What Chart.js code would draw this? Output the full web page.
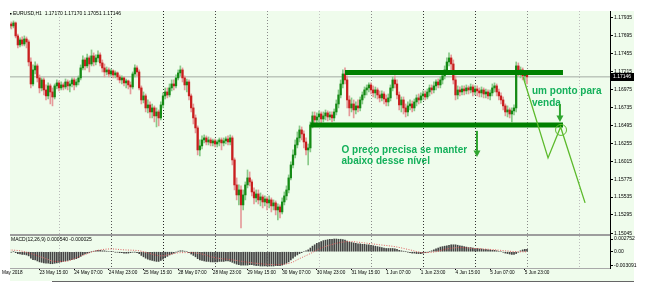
<!DOCTYPE html>
<html><head><meta charset="utf-8">
<script src="https://cdn.jsdelivr.net/npm/chart.js@4.4.1/dist/chart.umd.min.js"></script>
<style>html,body{margin:0;padding:0;background:#fff;overflow:hidden}canvas{display:block}</style>
</head><body>
<canvas id="c" width="656" height="305"></canvas>
<script>
// ---- EURUSD H1, bars 1..240 = 23 May 01:00 .. 6 Jun 00:00 ----
const OPEN = [
1.17802,1.17855,1.17829,1.17869,1.17695,1.17574,1.17641,1.17587,1.17654,1.17614,
1.17346,1.17051,1.17239,1.17293,1.17132,1.16998,1.17105,1.16971,1.16891,1.17025,
1.16944,1.16877,1.17025,1.17065,1.16998,1.17038,1.17011,1.17078,1.17025,1.17051,
1.17105,1.17038,1.17078,1.17132,1.17266,1.17373,1.17293,1.17400,1.17319,1.17427,
1.17346,1.17400,1.17440,1.17333,1.17266,1.17212,1.17239,1.17185,1.17226,1.17172,
1.17199,1.17145,1.17105,1.17132,1.17065,1.17092,1.17038,1.17011,1.17185,1.17266,
1.17212,1.16998,1.16837,1.16891,1.16730,1.16770,1.16676,1.16730,1.16623,1.16676,
1.16596,1.16770,1.16891,1.16944,1.16904,1.16998,1.17051,1.17025,1.17132,1.17199,
1.17239,1.17132,1.17038,1.17078,1.16891,1.16730,1.16596,1.16462,1.16167,1.16221,
1.16301,1.16328,1.16274,1.16301,1.16261,1.16288,1.16247,1.16274,1.16301,1.16261,
1.16288,1.16314,1.16274,1.16328,1.16033,1.15698,1.15564,1.15631,1.15430,1.15564,
1.15698,1.15792,1.15738,1.15604,1.15524,1.15577,1.15497,1.15537,1.15470,1.15510,
1.15457,1.15497,1.15417,1.15457,1.15363,1.15403,1.15336,1.15470,1.15551,1.15631,
1.15792,1.15966,1.16100,1.16234,1.16328,1.16435,1.16381,1.16274,1.16167,1.16194,
1.16502,1.16623,1.16569,1.16609,1.16649,1.16582,1.16623,1.16663,1.16609,1.16636,
1.16596,1.16676,1.16783,1.16904,1.17051,1.17185,1.17105,1.16837,1.16730,1.16783,
1.16703,1.16757,1.16730,1.16837,1.16904,1.16971,1.16998,1.17038,1.16971,1.16931,
1.16971,1.16904,1.16864,1.16917,1.16850,1.16810,1.16864,1.16998,1.17105,1.17051,
1.16904,1.16770,1.16837,1.16730,1.16676,1.16757,1.16783,1.16730,1.16810,1.16864,
1.16837,1.16891,1.16917,1.16877,1.16944,1.16998,1.16971,1.17025,1.17078,1.17038,
1.17105,1.17159,1.17239,1.17346,1.17400,1.17319,1.17105,1.16904,1.16971,1.16944,
1.16984,1.16958,1.16998,1.16971,1.17011,1.16944,1.16984,1.16958,1.16931,1.16971,
1.16917,1.16944,1.16891,1.16931,1.16998,1.17025,1.16944,1.16891,1.16837,1.16757,
1.16676,1.16703,1.16649,1.16690,1.16730,1.17293,1.17212,1.17239,1.17159,1.17170];
const HIGH = [
1.17896,1.17882,1.17896,1.17882,1.17721,1.17668,1.17681,1.17695,1.17681,1.17641,
1.17400,1.17306,1.17346,1.17319,1.17172,1.17132,1.17132,1.17038,1.17065,1.17051,
1.16998,1.17051,1.17105,1.17092,1.17078,1.17065,1.17118,1.17105,1.17092,1.17132,
1.17132,1.17118,1.17159,1.17306,1.17427,1.17400,1.17453,1.17427,1.17507,1.17467,
1.17440,1.17494,1.17467,1.17373,1.17319,1.17279,1.17266,1.17252,1.17239,1.17226,
1.17212,1.17172,1.17159,1.17145,1.17118,1.17105,1.17078,1.17212,1.17306,1.17293,
1.17239,1.17025,1.16944,1.16917,1.16837,1.16810,1.16783,1.16757,1.16730,1.16703,
1.16810,1.16931,1.16998,1.16998,1.17051,1.17105,1.17105,1.17172,1.17239,1.17293,
1.17266,1.17159,1.17118,1.17105,1.16917,1.16783,1.16636,1.16489,1.16301,1.16355,
1.16368,1.16355,1.16341,1.16328,1.16314,1.16314,1.16301,1.16328,1.16328,1.16328,
1.16341,1.16355,1.16368,1.16355,1.16060,1.15792,1.15698,1.15685,1.15631,1.15738,
1.15899,1.15872,1.15765,1.15658,1.15631,1.15631,1.15591,1.15564,1.15551,1.15537,
1.15551,1.15524,1.15497,1.15484,1.15443,1.15430,1.15524,1.15604,1.15685,1.15832,
1.16006,1.16167,1.16301,1.16408,1.16489,1.16475,1.16422,1.16328,1.16247,1.16542,
1.16676,1.16676,1.16663,1.16690,1.16676,1.16676,1.16703,1.16690,1.16676,1.16676,
1.16716,1.16837,1.16971,1.17105,1.17239,1.17266,1.17159,1.16891,1.16864,1.16837,
1.16810,1.16837,1.16877,1.16944,1.17011,1.17038,1.17065,1.17065,1.17025,1.17011,
1.16998,1.16958,1.16958,1.16944,1.16904,1.16917,1.17038,1.17145,1.17159,1.17105,
1.16944,1.16877,1.16877,1.16783,1.16810,1.16837,1.16824,1.16850,1.16904,1.16917,
1.16931,1.16958,1.16958,1.16984,1.17038,1.17038,1.17078,1.17105,1.17118,1.17145,
1.17199,1.17293,1.17400,1.17467,1.17440,1.17373,1.17159,1.17025,1.17011,1.17025,
1.17025,1.17038,1.17025,1.17051,1.17038,1.17025,1.17025,1.16998,1.17011,1.16998,
1.16984,1.16971,1.16971,1.17051,1.17065,1.17051,1.16984,1.16931,1.16877,1.16783,
1.16757,1.16730,1.16730,1.16770,1.17346,1.17333,1.17279,1.17266,1.17226,1.17170];
const LOW = [
1.17775,1.17788,1.17802,1.17668,1.17534,1.17547,1.17561,1.17561,1.17534,1.17293,
1.16998,1.17025,1.17185,1.17078,1.16931,1.16958,1.16904,1.16837,1.16850,1.16783,
1.16757,1.16850,1.16984,1.16958,1.16971,1.16971,1.16984,1.16971,1.16944,1.17011,
1.16971,1.17011,1.17038,1.17105,1.17239,1.17239,1.17266,1.17212,1.17293,1.17293,
1.17306,1.17346,1.17293,1.17212,1.17145,1.17172,1.17145,1.17159,1.17132,1.17132,
1.17105,1.17065,1.17051,1.17025,1.16998,1.16984,1.16917,1.16984,1.17145,1.17159,
1.16971,1.16783,1.16797,1.16676,1.16663,1.16596,1.16596,1.16542,1.16475,1.16489,
1.16569,1.16730,1.16850,1.16864,1.16877,1.16958,1.16971,1.16998,1.17105,1.17159,
1.17078,1.16971,1.16944,1.16837,1.16676,1.16515,1.16395,1.16100,1.16087,1.16180,
1.16261,1.16234,1.16234,1.16221,1.16221,1.16207,1.16207,1.16221,1.16167,1.16221,
1.16247,1.16234,1.16234,1.15966,1.15631,1.15497,1.15430,1.15122,1.15363,1.15497,
1.15658,1.15685,1.15551,1.15443,1.15470,1.15443,1.15417,1.15390,1.15417,1.15363,
1.15390,1.15336,1.15363,1.15296,1.15229,1.15256,1.15309,1.15430,1.15497,1.15591,
1.15765,1.15926,1.16060,1.16194,1.16274,1.16301,1.16194,1.16100,1.15966,1.16140,
1.16462,1.16515,1.16529,1.16542,1.16529,1.16542,1.16569,1.16556,1.16569,1.16542,
1.16556,1.16636,1.16730,1.16864,1.16998,1.17051,1.16730,1.16623,1.16676,1.16596,
1.16649,1.16676,1.16690,1.16783,1.16864,1.16904,1.16944,1.16917,1.16877,1.16864,
1.16850,1.16810,1.16824,1.16783,1.16757,1.16757,1.16824,1.16958,1.16998,1.16850,
1.16703,1.16676,1.16649,1.16609,1.16623,1.16703,1.16676,1.16690,1.16757,1.16783,
1.16797,1.16837,1.16837,1.16850,1.16891,1.16917,1.16931,1.16971,1.16998,1.16998,
1.17051,1.17118,1.17199,1.17293,1.17239,1.17051,1.16837,1.16850,1.16891,1.16904,
1.16904,1.16917,1.16917,1.16931,1.16891,1.16904,1.16891,1.16877,1.16877,1.16864,
1.16864,1.16850,1.16837,1.16891,1.16944,1.16891,1.16837,1.16783,1.16703,1.16623,
1.16609,1.16596,1.16542,1.16636,1.16676,1.17159,1.17132,1.17105,1.17078,1.17051];
const CLOSE = [
1.17855,1.17829,1.17869,1.17695,1.17574,1.17641,1.17587,1.17654,1.17614,1.17346,
1.17051,1.17239,1.17293,1.17132,1.16998,1.17105,1.16971,1.16891,1.17025,1.16944,
1.16877,1.17025,1.17065,1.16998,1.17038,1.17011,1.17078,1.17025,1.17051,1.17105,
1.17038,1.17078,1.17132,1.17266,1.17373,1.17293,1.17400,1.17319,1.17427,1.17346,
1.17400,1.17440,1.17333,1.17266,1.17212,1.17239,1.17185,1.17226,1.17172,1.17199,
1.17145,1.17105,1.17132,1.17065,1.17092,1.17038,1.17011,1.17185,1.17266,1.17212,
1.16998,1.16837,1.16891,1.16730,1.16770,1.16676,1.16730,1.16623,1.16676,1.16596,
1.16770,1.16891,1.16944,1.16904,1.16998,1.17051,1.17025,1.17132,1.17199,1.17239,
1.17132,1.17038,1.17078,1.16891,1.16730,1.16596,1.16462,1.16167,1.16221,1.16301,
1.16328,1.16274,1.16301,1.16261,1.16288,1.16247,1.16274,1.16301,1.16261,1.16288,
1.16314,1.16274,1.16328,1.16033,1.15698,1.15564,1.15631,1.15430,1.15564,1.15698,
1.15792,1.15738,1.15604,1.15524,1.15577,1.15497,1.15537,1.15470,1.15510,1.15457,
1.15497,1.15417,1.15457,1.15363,1.15403,1.15336,1.15470,1.15551,1.15631,1.15792,
1.15966,1.16100,1.16234,1.16328,1.16435,1.16381,1.16274,1.16167,1.16194,1.16502,
1.16623,1.16569,1.16609,1.16649,1.16582,1.16623,1.16663,1.16609,1.16636,1.16596,
1.16676,1.16783,1.16904,1.17051,1.17185,1.17105,1.16837,1.16730,1.16783,1.16703,
1.16757,1.16730,1.16837,1.16904,1.16971,1.16998,1.17038,1.16971,1.16931,1.16971,
1.16904,1.16864,1.16917,1.16850,1.16810,1.16864,1.16998,1.17105,1.17051,1.16904,
1.16770,1.16837,1.16730,1.16676,1.16757,1.16783,1.16730,1.16810,1.16864,1.16837,
1.16891,1.16917,1.16877,1.16944,1.16998,1.16971,1.17025,1.17078,1.17038,1.17105,
1.17159,1.17239,1.17346,1.17400,1.17319,1.17105,1.16904,1.16971,1.16944,1.16984,
1.16958,1.16998,1.16971,1.17011,1.16944,1.16984,1.16958,1.16931,1.16971,1.16917,
1.16944,1.16891,1.16931,1.16998,1.17025,1.16944,1.16891,1.16837,1.16757,1.16676,
1.16703,1.16649,1.16690,1.16730,1.17293,1.17212,1.17239,1.17159,1.17185,1.17146];

// MACD(12,26,9) main (histogram), one value per bar
const MACD = [
-0.0001,-0.0001,0.0000,-0.0002,-0.0004,-0.0005,-0.0006,-0.0006,-0.0007,
-0.0009,-0.0014,-0.0017,-0.0018,-0.0020,-0.0022,-0.0023,-0.0024,-0.0025,-0.0025,-0.0026,-0.0026,-0.0025,
-0.0024,-0.0023,-0.0022,-0.0021,-0.0020,-0.0019,-0.0018,-0.0017,-0.0016,-0.0015,-0.0013,-0.0010,-0.0007,
-0.0005,-0.0003,-0.0002,0.0000,0.0001,0.0002,0.0003,0.0003,0.0002,0.0002,0.0001,0.0001,0.0000,0.0000,-0.0001,-0.0001,-0.0002,-0.0002,-0.0003,-0.0003,-0.0003,-0.0002,-0.0001,-0.0001,-0.0002,
-0.0004,-0.0008,-0.0011,-0.0014,-0.0016,-0.0018,-0.0019,-0.0020,-0.0021,-0.0021,-0.0019,-0.0016,
-0.0013,-0.0010,-0.0007,-0.0005,-0.0003,-0.0001,0.0001,0.0002,0.0002,0.0001,0.0000,-0.0002,
-0.0005,-0.0008,-0.0011,-0.0015,-0.0018,-0.0019,-0.0020,-0.0021,-0.0021,-0.0022,-0.0022,-0.0022,-0.0022,-0.0021,-0.0021,-0.0021,-0.0020,-0.0020,-0.0021,-0.0023,-0.0025,-0.0027,-0.0028,-0.0029,-0.0029,-0.0029,
-0.0029,-0.0028,-0.0028,-0.0029,-0.0030,-0.0030,-0.0031,-0.0031,-0.0031,-0.0031,-0.0031,-0.0031,-0.0031,-0.0030,-0.0030,-0.0030,-0.0029,-0.0027,-0.0025,-0.0022,-0.0018,-0.0014,
-0.0010,-0.0007,-0.0004,-0.0002,0.0000,0.0002,
0.0004,0.0008,0.0012,0.0015,0.0018,0.0020,0.0022,0.0024,0.0025,0.0026,0.0027,0.0027,0.00275,0.00275,0.0027,0.0027,0.0026,0.0025,0.0023,0.0021,0.0020,0.0019,
0.0018,0.0017,0.0017,0.0016,0.0016,0.0015,0.0015,0.0014,0.0013,0.0012,0.0011,0.0010,0.0009,0.0008,0.0007,0.0007,
0.0007,0.0007,0.0006,0.0005,0.0003,0.0002,0.0001,0.0000,-0.0001,-0.0002,-0.0003,-0.0003,-0.0004,-0.0004,-0.0004,-0.0003,-0.0002,-0.0001,0.0000,
0.0002,0.0004,0.0006,0.0008,0.0010,0.0011,0.0012,0.0013,0.0014,0.0015,0.0015,
0.0015,0.0014,0.0013,0.0012,0.0011,0.0010,0.0009,0.0009,0.0008,0.0007,0.0007,0.0006,0.0006,0.0005,0.0005,0.0004,0.0004,0.0003,0.0003,
0.0002,0.0001,0.0000,-0.0001,-0.0003,-0.0004,-0.0005,-0.0006,-0.0006,-0.0004,-0.0001,0.0002,0.0004,0.0005,0.00054];

// MACD signal line, read at these bars
const SIGNAL_IDX = [1,6,11,18,22,27,31,36,41,48,54,61,66,71,75,80,84,89,96,103,110,117,124,131,135,140,144,151,158,165,172,179,186,192,198,203,209,216,223,230,235,240];
const SIGNAL_VAL = [0.0004,0.0002,-0.0004,-0.0015,-0.0021,-0.0021,-0.0015,-0.0006,0.0002,0.0006,0.0004,0.0002,-0.0004,-0.0009,-0.0006,-0.0002,-0.0002,-0.0004,-0.0013,-0.0017,-0.0022,-0.0026,-0.0028,-0.0024,-0.0015,-0.0004,0.0006,0.0017,0.0022,0.0019,0.0015,0.0011,0.0004,-0.0002,0.0000,0.0006,0.0009,0.0007,0.0005,0.0002,0.0000,-0.000025];

// time axis
const LABEL_IDX = [15,31,47,63,79,95,111,127,143,159,175,191,207,223,239];
const TIME_LABELS = ['23 May 15:00','24 May 07:00','24 May 23:00','25 May 15:00','28 May 07:00','28 May 23:00','29 May 15:00','30 May 07:00','30 May 23:00','31 May 15:00','1 Jun 07:00','1 Jun 23:00','4 Jun 15:00','5 Jun 07:00','5 Jun 23:00'];
const FIRST_LABEL = 'May 2018';
const DAY_IDX = [24,48,72,96,120,144,168,192,216,240,264];
const PRICE_TICKS = [1.17935,1.17695,1.17455,1.17215,1.16975,1.16735,1.16495,1.16255,1.16015,1.15775,1.15535,1.15295,1.15045];
const MACD_TICKS = [0.002752,0,-0.003091];
const MACD_TICK_LABELS = ['0.002752','0.00','-0.003091'];
const LAST_PRICE = 1.17146;
const HEADER = 'EURUSD,H1  1.17170 1.17170 1.17051 1.17146';
const MACD_TITLE = 'MACD(12,26,9) 0.000540 -0.000025';

// hand-drawn analysis objects (bar index, price)
const LEVELS = [[156,256.6,1.17206],[140,256.6,1.16502]];
const PROJECTION = [[238.2,1.17145],[249.7,1.16060],[255.5,1.16475],[266.8,1.15457]];
const ARROWS = [[216.9,1.16422,1.16073],[255.2,1.16783,1.16542]];
const MARK = [255.7,1.16435];
const NOTES = [['um ponto para',242.3,1.16958],['venda',242.3,1.16797],['O preço precisa se manter',154.4,1.16167],['abaixo desse nível',154.4,1.16013]];

// ---- styles ----
const BG = '#effcec', UP = '#148a14', DN = '#c81e1e', UPW = '#88c988', DNW = '#e59a9a';
const DAY_COLORS = ['#b8b8b8','#555','#222','#444','#8a8a8a','#c4c4c4','#8a8a8a','#333','#333','#8a8a8a','#bdbdbd'];
const NOTE_GREEN = '#14b05a', ARROW_GREEN = '#2fa62f', LINE_GREEN = '#5cba2c', LEVEL_GREEN = '#008000';
Chart.defaults.font.family = '"Liberation Sans", Arial, sans-serif';

const bars = CLOSE.map((c, k) => k + 1);
const isUp = CLOSE.map((c, k) => c >= OPEN[k]);

const decor = {
  id: 'decor',
  beforeDraw(c) {
    const g = c.ctx, a = c.chartArea;
    g.save();
    g.fillStyle = '#fff'; g.fillRect(0, 0, c.width, c.height);
    g.fillStyle = BG; g.fillRect(a.left, a.top, a.right + 24 - a.left, a.bottom + 13 - a.top);
    g.restore();
  },
  afterDatasetsDraw(c) {
    const g = c.ctx, a = c.chartArea, X = c.scales.x, Y = c.scales.y;
    g.save();
    g.fillStyle = '#9d9d9d'; g.fillRect(a.left, Y.bottom - 1, a.right - a.left, 2);
    g.fillStyle = '#a9a9a9'; g.fillRect(a.left, a.bottom, a.right - a.left, 1);
    g.fillStyle = '#666'; g.fillRect(52, a.bottom + 13, a.right + 24 - 52, 1);
    const yp = Math.round(Y.getPixelForValue(LAST_PRICE));
    g.fillStyle = '#000'; g.fillRect(a.right + 1, yp - 4, 23, 8);
    g.font = '5px "Liberation Sans", Arial, sans-serif';
    g.textBaseline = 'middle'; g.textAlign = 'left';
    g.fillStyle = '#fff'; g.fillText(LAST_PRICE.toFixed(5), a.right + 3, yp);
    g.fillStyle = '#000';
    g.fillRect(a.left, a.top + 2, 1.5, 1.5);
    g.fillText(HEADER, a.left + 3, a.top + 3);
    g.fillText(MACD_TITLE, a.left + 1, Y.bottom + 5);
    g.font = '4.7px "Liberation Sans", Arial, sans-serif';
    g.fillText(FIRST_LABEL, 2, a.bottom + 4.5);
    g.font = 'bold 10px "Liberation Sans", Arial, sans-serif';
    g.fillStyle = NOTE_GREEN;
    NOTES.forEach(([t, i, p]) => g.fillText(t, X.getPixelForValue(i), Y.getPixelForValue(p)));
    g.strokeStyle = ARROW_GREEN; g.fillStyle = ARROW_GREEN;
    ARROWS.forEach(([i, p0, p1]) => {
      const x = X.getPixelForValue(i), y0 = Y.getPixelForValue(p0), y1 = Y.getPixelForValue(p1);
      g.lineWidth = 2; g.beginPath(); g.moveTo(x, y0); g.lineTo(x, y1 - 5); g.stroke();
      g.beginPath(); g.moveTo(x - 3.5, y1 - 6.5); g.lineTo(x + 3.5, y1 - 6.5); g.lineTo(x, y1); g.closePath(); g.fill();
    });
    g.strokeStyle = LINE_GREEN; g.lineWidth = 1;
    g.beginPath(); g.arc(X.getPixelForValue(MARK[0]), Y.getPixelForValue(MARK[1]), 5.5, 0, Math.PI * 2); g.stroke();
    g.restore();
  }
};

const tickFont = {size: 5};
new Chart(document.getElementById('c'), {
  type: 'bar',
  data: {
    datasets: [
      ...LEVELS.map(([f, t, p]) => ({type: 'line', order: 1, data: [{x: f, y: p}, {x: t, y: p}], borderColor: LEVEL_GREEN, borderWidth: 5, borderCapStyle: 'butt', pointRadius: 0, yAxisID: 'y'})),
      {type: 'line', order: 0, data: PROJECTION.map(([i, p]) => ({x: i, y: p})), borderColor: LINE_GREEN, borderWidth: 1.3, pointRadius: 0, tension: 0, yAxisID: 'y', clip: false},
      {type: 'line', order: 5, data: SIGNAL_IDX.map((i, k) => ({x: i, y: SIGNAL_VAL[k]})), borderColor: '#e06060', borderWidth: 1, borderDash: [1, 1.5], pointRadius: 0, cubicInterpolationMode: 'monotone', yAxisID: 'y2'},
      {type: 'bar', order: 6, grouped: false, data: bars.map((i, k) => ({x: i, y: MACD[k]})), backgroundColor: '#444', barThickness: 1, yAxisID: 'y2'},
      {type: 'bar', order: 7, grouped: false, data: bars.map((i, k) => ({x: i, y: [OPEN[k], CLOSE[k]]})), backgroundColor: isUp.map(u => u ? UP : DN), barThickness: 1.6, minBarLength: 1, yAxisID: 'y'},
      {type: 'bar', order: 8, grouped: false, data: bars.map((i, k) => ({x: i, y: [LOW[k], HIGH[k]]})), backgroundColor: isUp.map(u => u ? UPW : DNW), barThickness: 1, yAxisID: 'y'},
      {type: 'line', order: 10, data: [{x: 1.385, y: LAST_PRICE}, {x: 278.3, y: LAST_PRICE}], borderColor: '#a3aba3', borderWidth: 1, pointRadius: 0, yAxisID: 'y'}
    ]
  },
  options: {
    responsive: false, animation: false, devicePixelRatio: 1,
    layout: {padding: {left: 10, top: 11, right: 0, bottom: 24}},
    plugins: {legend: {display: false}, tooltip: {enabled: false}},
    scales: {
      x: {
        type: 'linear', position: 'bottom', min: 1.385, max: 278.3, offset: false,
        afterBuildTicks: s => { s.ticks = LABEL_IDX.map(v => ({value: v})); },
        afterFit: s => { s.height = 13; },
        ticks: {align: 'start', autoSkip: false, maxRotation: 0, minRotation: 0, padding: 0, color: '#000', font: {size: 4.7}, callback: (v, i) => TIME_LABELS[i]},
        grid: {offset: false, drawOnChartArea: false, drawTicks: true, tickLength: 2, color: '#000'},
        border: {display: false}
      },
      xg: {
        type: 'linear', position: 'bottom', min: 1.385, max: 278.3, offset: false,
        afterBuildTicks: s => { s.ticks = DAY_IDX.map(v => ({value: v})); },
        afterFit: s => { s.height = 0; },
        ticks: {display: false},
        grid: {offset: false, drawOnChartArea: true, drawTicks: false, color: c => DAY_COLORS[c.index] || '#999', lineWidth: 1},
        border: {display: false, dash: [1, 2]}
      },
      y: {
        type: 'linear', position: 'right', stack: 'v', stackWeight: 224, offset: false,
        min: 1.150269, max: 1.180288,
        afterBuildTicks: s => { s.ticks = PRICE_TICKS.map(v => ({value: v})); },
        afterFit: s => { s.width = 46; },
        ticks: {autoSkip: false, padding: 1, color: '#000', font: tickFont, callback: v => v.toFixed(5)},
        grid: {drawOnChartArea: false, drawTicks: true, tickLength: 3, color: '#000'},
        border: {display: true, color: '#000', width: 1}
      },
      y2: {
        type: 'linear', position: 'right', stack: 'v', stackWeight: 33, offset: false,
        min: -0.003524, max: 0.003618,
        afterBuildTicks: s => { s.ticks = MACD_TICKS.map(v => ({value: v})); },
        afterFit: s => { s.width = 46; },
        ticks: {autoSkip: false, padding: 1, color: '#000', font: tickFont, callback: (v, i) => MACD_TICK_LABELS[i]},
        grid: {drawOnChartArea: false, drawTicks: true, tickLength: 3, color: '#000'},
        border: {display: true, color: '#000', width: 1}
      }
    }
  },
  plugins: [decor]
});
</script>
</body></html>
